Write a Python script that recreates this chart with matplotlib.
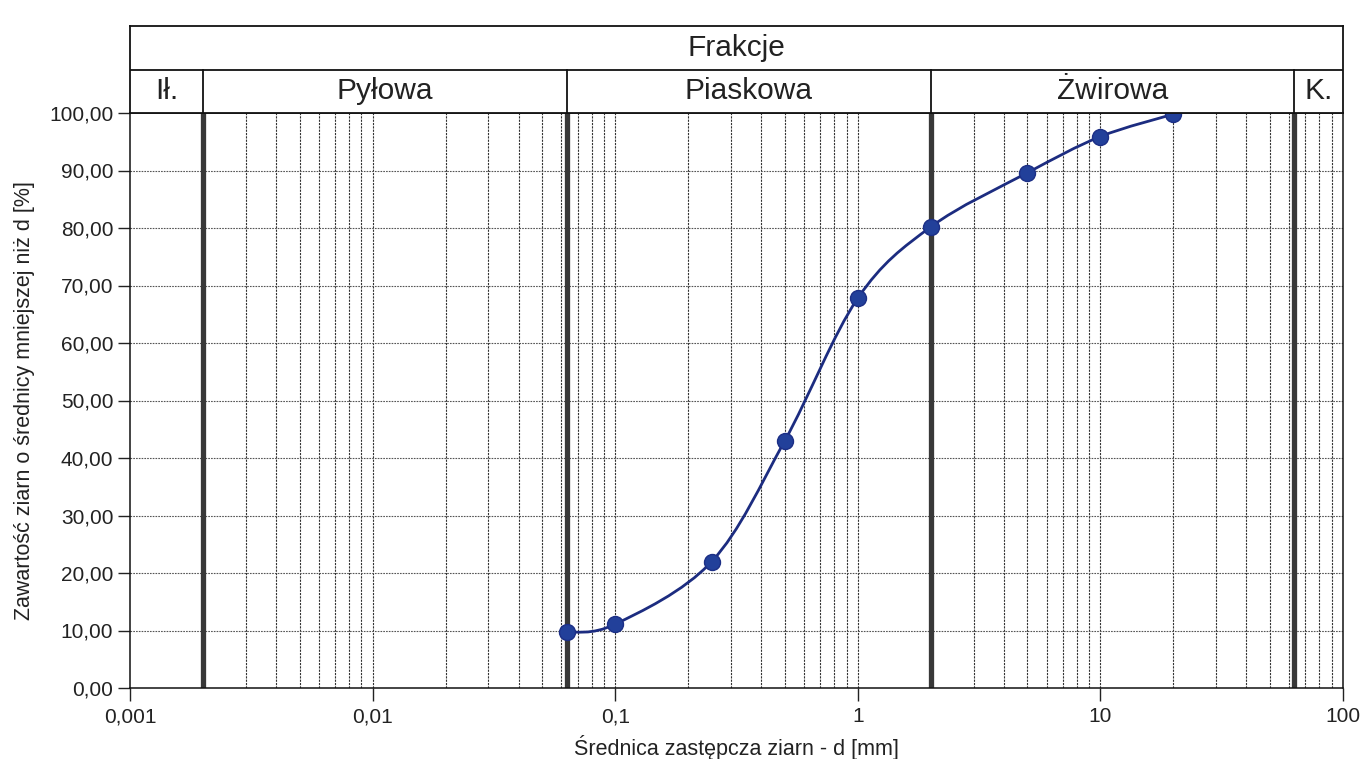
import numpy as np
import matplotlib
matplotlib.use("Agg")
import matplotlib.pyplot as plt
from matplotlib.path import Path
from matplotlib.patches import PathPatch
from matplotlib.ticker import FixedLocator, NullFormatter

plt.rcParams['font.family'] = ['Liberation Sans', 'DejaVu Sans']

# Sieve analysis: grain diameter [mm] and cumulative passing [%]
grain_mm = [0.063, 0.1, 0.25, 0.5, 1.0, 2.0, 5.0, 10.0, 20.0]
passing_pct = [9.7, 11.1, 22.0, 43.0, 67.8, 80.2, 89.6, 95.9, 99.8]

# Soil fraction boundaries [mm] and their names
fraction_bounds = [0.002, 0.063, 2.0, 63.0]
fraction_names = ["Ił.", "Pyłowa", "Piaskowa", "Żwirowa", "K."]
header_title = "Frakcje"

x_ticks = [0.001, 0.01, 0.1, 1, 10, 100]
x_tick_labels = ["0,001", "0,01", "0,1", "1", "10", "100"]
y_ticks = list(range(0, 101, 10))
x_label = "Średnica zastępcza ziarn - d [mm]"
y_label = "Zawartość ziarn o średnicy mniejszej niż d [%]"

W, H = 1367, 759
fig = plt.figure(figsize=(W / 100, H / 100), dpi=100)
fig.patch.set_facecolor("white")


def fx(px):
    return px / W


def fy(py):
    return 1 - py / H


left, right = 130, 1343
ax_top, ax_bottom = 113, 688
hdr_top = 26

XMIN, XMAX = 0.001, 100

# ---- main plot ----
ax = fig.add_axes([fx(left), fy(ax_bottom), fx(right - left), fy(ax_top) - fy(ax_bottom)])
ax.set_xscale("log")
ax.set_xlim(XMIN, XMAX)
ax.set_ylim(0, 100)

ax.xaxis.set_major_locator(FixedLocator(x_ticks))
ax.set_xticklabels(x_tick_labels)
minor = [m * 10.0 ** e for e in range(-3, 2) for m in range(2, 10)]
ax.xaxis.set_minor_locator(FixedLocator(minor))
ax.xaxis.set_minor_formatter(NullFormatter())
ax.yaxis.set_major_locator(FixedLocator(y_ticks))
ax.set_yticklabels([f"{v:.2f}".replace(".", ",") for v in y_ticks])

ax.tick_params(axis="both", which="major", direction="out", length=9, width=1.0,
               labelsize=15, colors="#222222")
ax.tick_params(axis="x", which="major", pad=5)
ax.tick_params(axis="y", which="major", pad=3)
ax.tick_params(axis="x", which="minor", length=0)

for s in ax.spines.values():
    s.set_linewidth(1.1)
    s.set_color("#111111")

# grid
for xv in minor + x_ticks[1:-1]:
    ax.axvline(xv, color="#333333", lw=0.8, ls=(0, (2.0, 1.0)), zorder=1)
for yv in y_ticks[1:-1]:
    ax.axhline(yv, color="#555555", lw=0.8, ls=(0, (1.5, 1.0)), zorder=1)

# fraction boundaries
for b in fraction_bounds:
    ax.axvline(b, color="#383838", lw=3.8, zorder=2)

# smoothed grading curve (cubic Bezier through the points, in log-x space)
pts = np.column_stack([np.log10(grain_mm), np.array(passing_pct, dtype=float)])
n = len(pts)
verts = [pts[0]]
codes = [Path.MOVETO]
for i in range(n - 1):
    p0 = pts[max(i - 1, 0)]
    p1 = pts[i]
    p2 = pts[i + 1]
    p3 = pts[min(i + 2, n - 1)]
    c1 = p1 + (p2 - p0) / 6.0
    c2 = p2 - (p3 - p1) / 6.0
    verts += [c1, c2, p2]
    codes += [Path.CURVE4] * 3
verts = np.array(verts)
verts[:, 0] = 10 ** verts[:, 0]
curve = PathPatch(Path(verts, codes), transform=ax.transData, fill=False,
                  edgecolor="#1c2c80", lw=2.0, zorder=4)
ax.add_patch(curve)
ax.plot(grain_mm, passing_pct, "o", ms=11.5, color="#22409a", mec="#1c2f86",
        mew=1.0, zorder=5, clip_on=False)

ax.set_xlabel(x_label, fontsize=15.5, color="#222222", labelpad=6)
ax.set_ylabel(y_label, fontsize=15.5, color="#222222", labelpad=10)

# ---- header table ----
hx = fig.add_axes([fx(left), fy(ax_top), fx(right - left), fy(hdr_top) - fy(ax_top)])
hx.set_xscale("log")
hx.set_xlim(XMIN, XMAX)
hx.set_ylim(0, 2)
hx.set_xticks([])
hx.set_yticks([])
hx.minorticks_off()
for s in hx.spines.values():
    s.set_linewidth(1.3)
    s.set_color("#111111")
hx.axhline(1, color="#111111", lw=1.3)
for b in fraction_bounds:
    hx.plot([b, b], [0, 1], color="#111111", lw=1.3)

edges = [XMIN] + fraction_bounds + [XMAX]
for name, a, b in zip(fraction_names, edges[:-1], edges[1:]):
    xc = 10 ** ((np.log10(a) + np.log10(b)) / 2)
    hx.text(xc, 0.5, name, ha="center", va="center", fontsize=21.5, color="#222222")
hx.text(10 ** ((np.log10(XMIN) + np.log10(XMAX)) / 2), 1.5, header_title,
        ha="center", va="center", fontsize=21.5, color="#222222")

fig.savefig("out.png", dpi=100, facecolor="white")
